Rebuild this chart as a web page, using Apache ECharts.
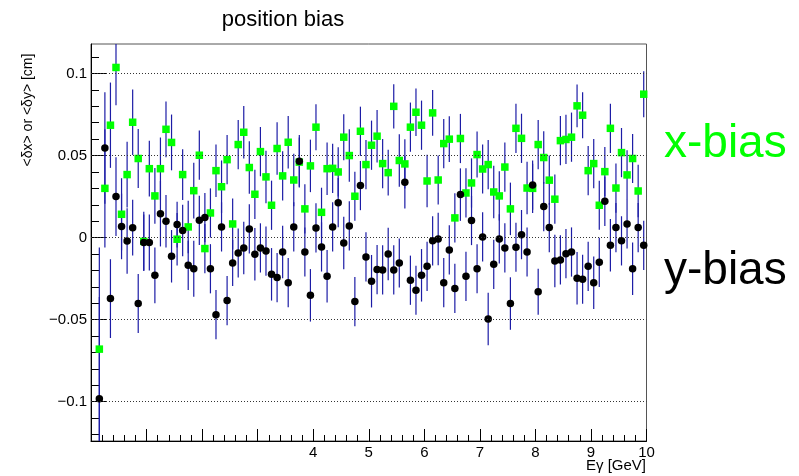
<!DOCTYPE html>
<html>
<head>
<meta charset="utf-8">
<script src="https://cdn.jsdelivr.net/npm/echarts@6/dist/echarts.min.js"></script>
<style>html,body{margin:0;padding:0;background:#fff}#c{width:799px;height:476px}</style>
</head>
<body>
<div id="c"></div>
<script>
// bin centres (GeV)
const energies = [0.15,0.25,0.35,0.45,0.55,0.65,0.75,0.85,0.95,1.05,1.15,1.25,1.35,1.45,1.55,1.65,1.75,1.85,1.95,2.05,
2.15,2.25,2.35,2.45,2.55,2.65,2.75,2.85,2.95,3.05,3.15,3.25,3.35,3.45,3.55,3.65,3.75,3.85,3.95,4.05,
4.15,4.25,4.35,4.45,4.55,4.65,4.75,4.85,4.95,5.05,5.15,5.25,5.35,5.45,5.55,5.65,5.75,5.85,5.95,6.05,
6.15,6.25,6.35,6.45,6.55,6.65,6.75,6.85,6.95,7.05,7.15,7.25,7.35,7.45,7.55,7.65,7.75,7.85,7.95,8.05,
8.15,8.25,8.35,8.45,8.55,8.65,8.75,8.85,8.95,9.05,9.15,9.25,9.35,9.45,9.55,9.65,9.75,9.85,9.95];

// x-bias (green squares)
const xBias = [-0.068,0.030,0.0685,0.1037,0.0142,0.0384,0.0703,0.0482,-0.0023,0.042,
0.0254,0.042,0.066,0.058,-0.001,0.0384,0.0065,0.0286,0.0502,-0.0067,
0.015,0.0408,0.031,0.0475,0.0083,0.0567,0.0642,0.0427,0.0264,0.0524,
0.037,0.0197,0.0543,0.0376,0.0581,0.0351,0.046,0.0175,0.0437,0.0673,
0.0154,0.042,0.0422,0.040,0.0612,0.050,0.0252,0.0648,0.0445,0.0563,
0.0618,0.0451,0.0396,0.080,0.047,0.0449,0.0673,0.0764,0.0685,0.0345,
0.076,0.0351,0.0573,0.060,0.012,0.0604,0.0272,0.0333,0.0506,0.0418,
0.0445,0.0278,0.0254,0.043,0.0175,0.0666,0.0605,0.0302,0.030,0.0567,
0.0488,0.035,0.0234,0.0591,0.0598,0.0612,0.0803,0.0746,0.0408,0.0451,
0.0197,0.0402,0.0666,0.0302,0.0518,0.0382,0.0482,0.0284,0.0874];
const xErr = [0.062,0.036,0.026,0.023,0.022,0.020,0.020,0.018,0.018,0.017,
0.017,0.019,0.017,0.017,0.016,0.0155,0.016,0.017,0.015,0.015,
0.015,0.016,0.016,0.015,0.0155,0.015,0.016,0.016,0.015,0.015,
0.016,0.015,0.016,0.015,0.016,0.016,0.015,0.015,0.016,0.014,
0.015,0.016,0.015,0.015,0.014,0.016,0.015,0.015,0.015,0.015,
0.016,0.015,0.014,0.0135,0.016,0.015,0.015,0.0145,0.015,0.016,
0.014,0.015,0.015,0.014,0.015,0.015,0.015,0.015,0.014,0.015,
0.015,0.016,0.015,0.015,0.016,0.015,0.015,0.016,0.015,0.015,
0.016,0.015,0.015,0.015,0.015,0.015,0.013,0.014,0.015,0.015,
0.015,0.015,0.015,0.015,0.015,0.015,0.015,0.016,0.014];

// y-bias (black circles)
const yBias = [-0.0982,0.0546,-0.0372,0.025,0.0068,-0.0021,0.006,-0.0402,-0.003,-0.003,
-0.023,0.0146,0.0099,-0.0114,0.0079,0.0043,-0.0169,-0.019,0.0105,0.0122,
-0.019,-0.047,0.0065,-0.0384,-0.0155,-0.0094,-0.0063,0.0053,-0.0102,-0.0063,
-0.0082,-0.0224,-0.0244,-0.0088,-0.0275,0.0065,0.0465,-0.0088,-0.0352,0.0059,
-0.0057,-0.0236,0.0065,0.0213,-0.0033,0.0071,-0.039,0.0317,-0.0118,-0.0266,
-0.0195,-0.0197,-0.010,-0.0197,-0.0155,0.0337,-0.026,-0.0321,-0.023,-0.0175,
-0.002,-0.0008,-0.0275,-0.0075,-0.031,0.0262,-0.0236,0.0104,-0.019,0.0004,
-0.0496,-0.0163,-0.0008,-0.0063,-0.0402,-0.0059,0.0018,-0.0088,0.032,-0.033,
0.0189,0.0061,-0.0143,-0.0136,-0.0098,-0.0088,-0.0248,-0.0254,-0.0175,-0.0275,
-0.0151,0.0221,-0.0047,0.0061,-0.002,0.0083,-0.019,0.0061,-0.0047];
const yErr = [0.062,0.034,0.024,0.024,0.020,0.020,0.017,0.018,0.017,0.017,
0.017,0.020,0.016,0.016,0.014,0.0157,0.015,0.017,0.015,0.015,
0.015,0.015,0.015,0.015,0.014,0.015,0.016,0.015,0.016,0.015,
0.015,0.016,0.015,0.016,0.015,0.015,0.016,0.015,0.016,0.015,
0.015,0.016,0.015,0.015,0.016,0.015,0.015,0.015,0.015,0.016,
0.015,0.015,0.016,0.015,0.015,0.016,0.015,0.015,0.016,0.015,
0.015,0.016,0.015,0.015,0.015,0.016,0.015,0.015,0.015,0.015,
0.016,0.015,0.015,0.015,0.016,0.015,0.015,0.015,0.015,0.014,
0.015,0.015,0.016,0.015,0.015,0.015,0.016,0.015,0.015,0.016,
0.015,0.015,0.016,0.015,0.015,0.015,0.016,0.015,0.015];

// axis ticks / labels
const yMajor = [-0.1,-0.05,0,0.05,0.1];
const yMajorLabels = ['\u22120.1','\u22120.05','0','0.05','0.1'];
const xLabelsShown = ['4','5','6','7','8','9','10'];
const Y_MIN = -0.124, Y_MAX = 0.118;

const yMinor = [];
for (let i = -12; i <= 11; i++) { if (i % 5 !== 0) yMinor.push(i / 100); }

const FONT = '"Liberation Sans", Arial, sans-serif';

function errSeries(vals, errs) {
  return {
    type: 'custom',
    z: 2,
    silent: true,
    data: energies.map((e, i) => [e, vals[i], errs[i]]),
    renderItem: function (params, api) {
      const x = api.value(0), y = api.value(1), er = api.value(2);
      const top = Math.min(y + er, Y_MAX), bot = Math.max(y - er, Y_MIN);
      const p1 = api.coord([x, top]), p2 = api.coord([x, bot]);
      return { type: 'line', shape: { x1: p1[0], y1: p1[1], x2: p2[0], y2: p2[1] },
               style: { stroke: '#1c1ca6', lineWidth: 1.2 } };
    }
  };
}

const chart = echarts.init(document.getElementById('c'), null, { renderer: 'canvas' });
chart.setOption({
  animation: false,
  backgroundColor: '#fff',
  grid: { left: 91, right: 152.5, top: 44, bottom: 35, containLabel: false, outerBoundsMode: 'none',
          show: true, borderColor: '#555', borderWidth: 1, backgroundColor: 'transparent' },
  xAxis: {
    type: 'value', min: 0, max: 10, interval: 1,
    axisLine: { show: true, onZero: false, lineStyle: { color: '#000', width: 1 } },
    axisTick: { show: true, inside: true, length: 12, lineStyle: { color: '#000' } },
    minorTick: { show: true, splitNumber: 5, length: 6, lineStyle: { color: '#000' } },
    splitLine: { show: false },
    axisLabel: { margin: 4, color: '#000', fontFamily: FONT, fontSize: 15,
      formatter: function (v) { const s = String(Math.round(v)); return xLabelsShown.indexOf(s) >= 0 ? s : ''; } }
  },
  yAxis: [{
    type: 'value', min: Y_MIN, max: Y_MAX,
    axisLine: { show: true, onZero: false, lineStyle: { color: '#000', width: 1 } },
    axisTick: { show: true, inside: true, length: 16, customValues: yMajor, lineStyle: { color: '#000' } },
    axisLabel: { show: true, margin: 4, color: '#000', fontFamily: FONT, fontSize: 15, customValues: yMajor,
      formatter: function (v) { let idx = 0, best = 1e9; yMajor.forEach((m, i) => { if (Math.abs(m - v) < best) { best = Math.abs(m - v); idx = i; } }); return yMajorLabels[idx]; } },
    splitLine: { show: false }
  }, {
    type: 'value', min: Y_MIN, max: Y_MAX, position: 'left', offset: 0,
    axisLine: { show: false },
    axisTick: { show: true, inside: true, length: 8, customValues: yMinor, lineStyle: { color: '#000' } },
    axisLabel: { show: false },
    splitLine: { show: false }
  }],
  graphic: [
    { type: 'text', x: 283, y: 20, style: { text: 'position bias', font: '22px ' + FONT, fill: '#000', textAlign: 'center', textVerticalAlign: 'middle' } },
    { type: 'text', x: 28, y: 110, rotation: Math.PI / 2, style: { text: '<\u03b4x> or <\u03b4y> [cm]', font: '14px ' + FONT, fill: '#000', textAlign: 'center', textVerticalAlign: 'middle' } },
    { type: 'text', x: 646, y: 466, style: { text: 'E\u03b3 [GeV]', font: '15px ' + FONT, fill: '#000', textAlign: 'right', textVerticalAlign: 'middle' } },
    { type: 'text', x: 664, y: 144, style: { text: 'x-bias', font: '46px ' + FONT, fill: '#00ff00', textAlign: 'left', textVerticalAlign: 'middle' } },
    { type: 'text', x: 664, y: 271, style: { text: 'y-bias', font: '46px ' + FONT, fill: '#000', textAlign: 'left', textVerticalAlign: 'middle' } }
  ],
  series: [
    { type: 'line', data: [], z: 1, silent: true,
      markLine: { silent: true, symbol: ['none', 'none'], label: { show: false }, animation: false,
        lineStyle: { color: '#333', type: [1, 2], width: 1 },
        data: yMajor.map(v => ({ yAxis: v })) } },
    errSeries(xBias, xErr),
    errSeries(yBias, yErr),
    { type: 'scatter', z: 3, symbol: 'rect', symbolSize: 7.5, silent: true,
      itemStyle: { color: '#00ff00', opacity: 1 }, data: energies.map((e, i) => [e, xBias[i]]) },
    { type: 'scatter', z: 4, symbol: 'circle', symbolSize: 7.5, silent: true,
      itemStyle: { color: '#000', opacity: 1 }, data: energies.map((e, i) => [e, yBias[i]]) }
  ]
});
</script>
</body>
</html>
